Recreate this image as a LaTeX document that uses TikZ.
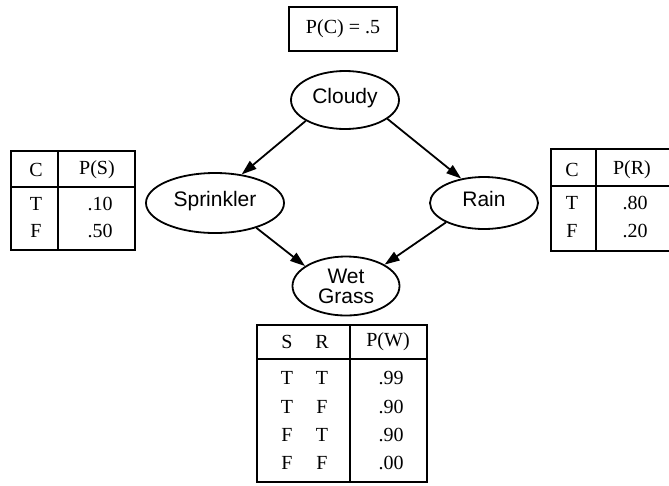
\documentclass[tikz,border=0pt]{standalone}
\usepackage{fontspec}
\setmainfont{Liberation Serif}
\setsansfont{Liberation Sans}
\usetikzlibrary{shapes.geometric,arrows.meta}
\tikzset{
  x=1pt,y=-1pt,
  bnode/.style={ellipse,draw,line width=1.8pt,inner sep=0pt,font=\sffamily\fontsize{21}{20}\selectfont,align=center},
  onel/.style={text depth=8pt},
  edge/.style={line width=1.8pt,-{Triangle[length=15pt,width=10pt]}},
  tbl/.style={line width=1.8pt},
  cell/.style={inner sep=0pt,font=\fontsize{20}{22}\selectfont}
}
\begin{document}
\begin{tikzpicture}
\useasboundingbox (0,0) rectangle (669,485);
% prior box
\node[draw,line width=1.8pt,minimum width=108pt,minimum height=44pt,inner sep=0pt,font=\fontsize{20}{22}\selectfont] (pc) at (343,29) {P(C) = .5};
% network nodes
\node[bnode,onel,minimum width=108pt,minimum height=58pt] (cloudy) at (345,100) {Cloudy};
\node[bnode,onel,minimum width=138pt,minimum height=60pt] (sprinkler) at (215,203) {Sprinkler};
\node[bnode,onel,minimum width=108pt,minimum height=52pt] (rain) at (484,203) {Rain};
\node[bnode,minimum width=107pt,minimum height=59pt] (wet) at (346,286) {Wet\\Grass};
% edges
\draw[edge] (cloudy.208) -- (sprinkler.47);
\draw[edge] (cloudy.336) -- (rain.133);
\draw[edge] (sprinkler.329) -- (wet.154);
\draw[edge] (rain.207) -- (wet.29);
% left table
\draw[tbl] (11,151) rectangle (135,250);
\draw[tbl] (58,151) -- (58,250);
\draw[tbl] (11,187) -- (135,187);
\node[cell] (lc) at (36,170) {C};
\node[cell] (lps) at (97,170) {P(S)};
\node[cell] (lt) at (36,204) {T};
\node[cell] (lf) at (36,231) {F};
\node[cell] (lv1) at (100,204) {.10};
\node[cell] (lv2) at (100,231) {.50};
% right table
\draw[tbl] (551,149) rectangle (690,251);
\draw[tbl] (596,149) -- (596,251);
\draw[tbl] (551,186) -- (690,186);
\node[cell] (rc) at (572,170) {C};
\node[cell] (rpr) at (632,170) {P(R)};
\node[cell] (rt) at (572,203) {T};
\node[cell] (rf) at (572,231) {F};
\node[cell] (rv1) at (635,203) {.80};
\node[cell] (rv2) at (635,231) {.20};
% bottom table
\draw[tbl] (257,325) rectangle (427,482);
\draw[tbl] (350,325) -- (350,482);
\draw[tbl] (257,359) -- (427,359);
\node[cell] (bs) at (287,342) {S};
\node[cell] (br) at (322,342) {R};
\node[cell] (bpw) at (388,342) {P(W)};
\node[cell] (b1s) at (287,378) {T};
\node[cell] (b1r) at (322,378) {T};
\node[cell] (b1v) at (391,378) {.99};
\node[cell] (b2s) at (287,407) {T};
\node[cell] (b2r) at (322,407) {F};
\node[cell] (b2v) at (391,407) {.90};
\node[cell] (b3s) at (287,435) {F};
\node[cell] (b3r) at (322,435) {T};
\node[cell] (b3v) at (391,435) {.90};
\node[cell] (b4s) at (287,463) {F};
\node[cell] (b4r) at (322,463) {F};
\node[cell] (b4v) at (391,463) {.00};
\end{tikzpicture}
\end{document}
